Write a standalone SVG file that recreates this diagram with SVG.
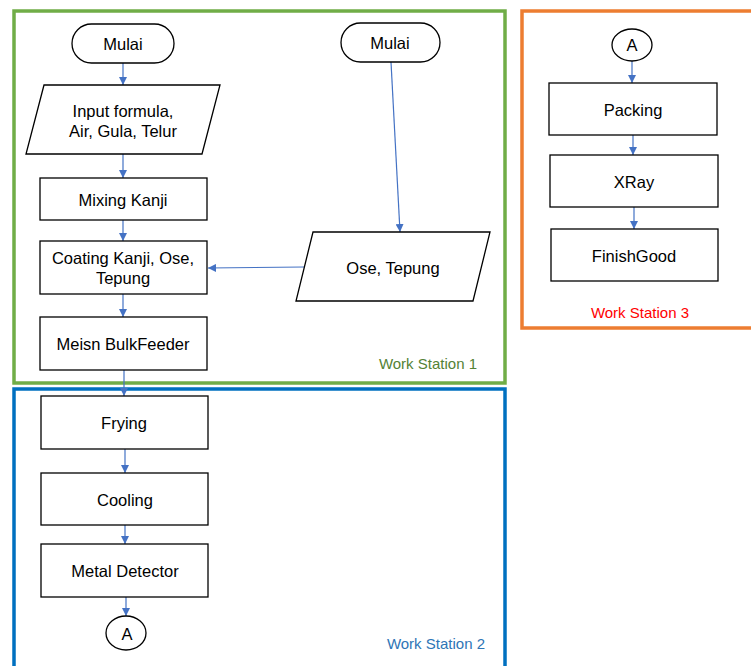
<svg xmlns="http://www.w3.org/2000/svg" width="751" height="666" viewBox="0 0 751 666">
  <style>
    .shape { fill: #ffffff; stroke: #000000; stroke-width: 1.3; }
    .lbl { font-family: "Liberation Sans", Arial, sans-serif; font-size: 16.5px; fill: #000000; text-anchor: middle; dominant-baseline: central; }
    .frame { fill: none; stroke-width: 3.5; }
    .flow { fill: none; stroke: #4472C4; stroke-width: 1.2; marker-end: url(#arr); }
    .ws { font-family: "Liberation Sans", Arial, sans-serif; font-size: 15px; text-anchor: end; dominant-baseline: central; }
  </style>
  <defs>
    <marker id="arr" viewBox="0 0 10 10" refX="10" refY="5" markerWidth="8" markerHeight="8" markerUnits="userSpaceOnUse" orient="auto">
      <path d="M0,0 L10,5 L0,10 Z" fill="#4472C4"/>
    </marker>
  </defs>
  <rect width="751" height="666" fill="#ffffff"/>

  <!-- station frames -->
  <g id="frames">
    <rect class="frame" x="14" y="11" width="491" height="372" stroke="#70AD47"/>
    <rect class="frame" x="14" y="389" width="491" height="290" stroke="#0070C0"/>
    <rect class="frame" x="522" y="11" width="240" height="317" stroke="#ED7D31"/>
    <text class="ws" x="477" y="363" fill="#548235">Work Station 1</text>
    <text class="ws" x="485" y="643" fill="#2E75B6">Work Station 2</text>
    <text class="ws" x="689" y="312" fill="#FF0000">Work Station 3</text>
  </g>

  <!-- connectors -->
  <g id="connectors">
    <line class="flow" x1="123" y1="63" x2="123" y2="85"/>
    <line class="flow" x1="123" y1="154" x2="123" y2="178"/>
    <line class="flow" x1="123" y1="220" x2="123" y2="241"/>
    <line class="flow" x1="123" y1="294" x2="123" y2="317"/>
    <line class="flow" x1="124" y1="370" x2="124" y2="396"/>
    <line class="flow" x1="125" y1="449" x2="125" y2="473"/>
    <line class="flow" x1="125" y1="525" x2="125" y2="544"/>
    <line class="flow" x1="126" y1="597" x2="126" y2="616"/>
    <line class="flow" x1="391" y1="62" x2="400" y2="232"/>
    <line class="flow" x1="304" y1="267" x2="208" y2="268"/>
    <line class="flow" x1="632" y1="61" x2="632" y2="83"/>
    <line class="flow" x1="633" y1="135" x2="633" y2="155"/>
    <line class="flow" x1="634" y1="207" x2="634" y2="229"/>
  </g>

  <!-- Work Station 1 -->
  <g id="start1">
    <rect class="shape" x="72" y="24" width="102" height="39" rx="19.5"/>
    <text class="lbl" x="123" y="44">Mulai</text>
  </g>
  <g id="input1">
    <polygon class="shape" points="44,85 220,85 202,154 26,154"/>
    <text class="lbl" x="123" y="111">Input formula,</text>
    <text class="lbl" x="123" y="131">Air, Gula, Telur</text>
  </g>
  <g id="mixing">
    <rect class="shape" x="40" y="178" width="167" height="42"/>
    <text class="lbl" x="123" y="200">Mixing Kanji</text>
  </g>
  <g id="coating">
    <rect class="shape" x="40" y="241" width="167" height="53"/>
    <text class="lbl" x="123" y="258">Coating Kanji, Ose,</text>
    <text class="lbl" x="123" y="278">Tepung</text>
  </g>
  <g id="bulkfeeder">
    <rect class="shape" x="40" y="317" width="167" height="53"/>
    <text class="lbl" x="123" y="344">Meisn BulkFeeder</text>
  </g>
  <g id="start2">
    <rect class="shape" x="341" y="23" width="99" height="39" rx="19.5"/>
    <text class="lbl" x="390" y="43">Mulai</text>
  </g>
  <g id="input2">
    <polygon class="shape" points="313,232 490,232 473,301 296,301"/>
    <text class="lbl" x="393" y="268">Ose, Tepung</text>
  </g>

  <!-- Work Station 2 -->
  <g id="frying">
    <rect class="shape" x="41" y="396" width="167" height="53"/>
    <text class="lbl" x="124" y="423">Frying</text>
  </g>
  <g id="cooling">
    <rect class="shape" x="41" y="473" width="167" height="52"/>
    <text class="lbl" x="125" y="500">Cooling</text>
  </g>
  <g id="metal">
    <rect class="shape" x="41" y="544" width="167" height="53"/>
    <text class="lbl" x="125" y="571">Metal Detector</text>
  </g>
  <g id="connectorA1">
    <ellipse class="shape" cx="126" cy="633" rx="20" ry="17"/>
    <text class="lbl" x="127" y="634" font-size="14">A</text>
  </g>

  <!-- Work Station 3 -->
  <g id="connectorA2">
    <ellipse class="shape" cx="632" cy="45" rx="20" ry="16"/>
    <text class="lbl" x="632" y="45" font-size="14">A</text>
  </g>
  <g id="packing">
    <rect class="shape" x="549" y="83" width="168" height="52"/>
    <text class="lbl" x="633" y="110">Packing</text>
  </g>
  <g id="xray">
    <rect class="shape" x="550" y="155" width="168" height="52"/>
    <text class="lbl" x="634" y="182">XRay</text>
  </g>
  <g id="finishgood">
    <rect class="shape" x="551" y="229" width="167" height="52"/>
    <text class="lbl" x="634" y="256">FinishGood</text>
  </g>
</svg>
